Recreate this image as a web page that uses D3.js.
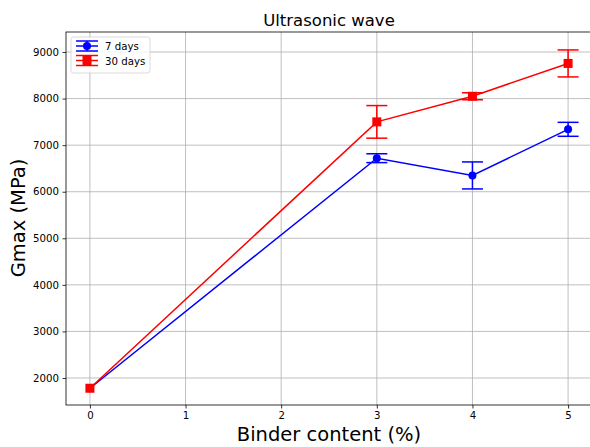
<!DOCTYPE html>
<html><head><meta charset="utf-8">
<script src="https://cdn.jsdelivr.net/npm/d3@7"></script>
<style>body{margin:0;background:#fff}svg{display:block}text{font-family:"DejaVu Sans",sans-serif}</style>
</head><body>
<svg id="c" width="590" height="447"></svg>
<script>
const binder = [0, 3, 4, 5];
const days7 = [1780, 6720, 6350, 7340];
const days7Err = [0, 95, 290, 150];
const days30 = [1780, 7500, 8050, 8755];
const days30Err = [0, 350, 75, 290];
const seriesNames = ["7 days", "30 days"];
const seriesColors = ["#0000ff", "#ff0000"];
const xTicks = [0, 1, 2, 3, 4, 5];
const yTicks = [2000, 3000, 4000, 5000, 6000, 7000, 8000, 9000];

const svg = d3.select("#c");
const L = 66, T = 32, B = 405;
const x = d3.scaleLinear().domain([-0.25, 5.25]).range([66, 592]);
const y = d3.scaleLinear().domain([1420, 9430]).range([B, T]);

// grid
const g = svg.append("g");
g.selectAll("line.gx").data(xTicks).enter().append("line")
  .attr("x1", d => x(d)).attr("x2", d => x(d)).attr("y1", T).attr("y2", B)
  .attr("stroke", "#b0b0b0").attr("stroke-width", 0.8);
g.selectAll("line.gy").data(yTicks).enter().append("line")
  .attr("x1", L).attr("x2", 592).attr("y1", d => y(d)).attr("y2", d => y(d))
  .attr("stroke", "#b0b0b0").attr("stroke-width", 0.8);

// axes
const xAxis = d3.axisBottom(x).tickValues(xTicks).tickSize(3.5).tickPadding(3.5).tickFormat(d3.format("d"));
const yAxis = d3.axisLeft(y).tickValues(yTicks).tickSize(3.5).tickPadding(3.5).tickFormat(d3.format("d"));
const gx = svg.append("g").attr("transform", `translate(0,${B})`).call(xAxis);
const gy = svg.append("g").attr("transform", `translate(${L},0)`).call(yAxis);
[gx, gy].forEach(a => {
  a.select(".domain").remove();
  a.selectAll("text").attr("font-size", 10.2).attr("fill", "#000").attr("font-family", "DejaVu Sans");
  a.selectAll("line").attr("stroke", "#000").attr("stroke-width", 0.8);
});
// spines
svg.append("rect").attr("x", L).attr("y", T).attr("width", 592 - L).attr("height", B - T)
  .attr("fill", "none").attr("stroke", "#000").attr("stroke-width", 0.8);

// series
const series = [
  {name: seriesNames[0], vals: days7, err: days7Err, color: seriesColors[0], marker: "circle"},
  {name: seriesNames[1], vals: days30, err: days30Err, color: seriesColors[1], marker: "square"}
];
const line = d3.line().x(d => x(d[0])).y(d => y(d[1]));
series.forEach(s => {
  const pts = binder.map((b, i) => [b, s.vals[i], s.err[i]]);
  const sg = svg.append("g");
  sg.append("path").datum(pts).attr("d", line).attr("fill", "none")
    .attr("stroke", s.color).attr("stroke-width", 1.5);
  pts.forEach(p => {
    if (p[2] > 0) {
      const cx = x(p[0]), y1 = y(p[1] + p[2]), y2 = y(p[1] - p[2]);
      sg.append("line").attr("x1", cx).attr("x2", cx).attr("y1", y1).attr("y2", y2).attr("stroke", s.color).attr("stroke-width", 1.5);
      [y1, y2].forEach(yy => sg.append("line").attr("x1", cx - 10.5).attr("x2", cx + 10.5).attr("y1", yy).attr("y2", yy).attr("stroke", s.color).attr("stroke-width", 1.5));
    }
    if (s.marker === "circle") sg.append("circle").attr("cx", x(p[0])).attr("cy", y(p[1])).attr("r", 4).attr("fill", s.color);
    else sg.append("rect").attr("x", x(p[0]) - 4.5).attr("y", y(p[1]) - 4.5).attr("width", 9).attr("height", 9).attr("fill", s.color);
  });
});

// legend
const lg = svg.append("g");
lg.append("rect").attr("x", 71).attr("y", 37).attr("width", 79).attr("height", 36).attr("rx", 2.5)
  .attr("fill", "#fff").attr("fill-opacity", 0.8).attr("stroke", "#d0d0d0").attr("stroke-width", 0.8);
series.forEach((s, i) => {
  const yy = 46 + i * 14.5;
  const hx = 87;
  lg.append("line").attr("x1", 76).attr("x2", 98).attr("y1", yy).attr("y2", yy).attr("stroke", s.color).attr("stroke-width", 1.5);
  lg.append("line").attr("x1", hx).attr("x2", hx).attr("y1", yy - 5).attr("y2", yy + 5).attr("stroke", s.color).attr("stroke-width", 1.5);
  [yy - 5, yy + 5].forEach(c => lg.append("line").attr("x1", 76).attr("x2", 98).attr("y1", c).attr("y2", c).attr("stroke", s.color).attr("stroke-width", 1.5));
  if (s.marker === "circle") lg.append("circle").attr("cx", hx).attr("cy", yy).attr("r", 4).attr("fill", s.color);
  else lg.append("rect").attr("x", hx - 4.5).attr("y", yy - 4.5).attr("width", 9).attr("height", 9).attr("fill", s.color);
  lg.append("text").attr("x", 105).attr("y", yy + 4).attr("font-size", 10.2).attr("fill", "#000").text(s.name);
});

// titles
svg.append("text").attr("x", 329).attr("y", 26).attr("text-anchor", "middle").attr("font-size", 16.5).attr("fill", "#000").text("Ultrasonic wave");
svg.append("text").attr("x", 329).attr("y", 441).attr("text-anchor", "middle").attr("font-size", 19.5).attr("fill", "#000").text("Binder content (%)");
svg.append("text").attr("transform", "translate(25,218) rotate(-90)").attr("text-anchor", "middle").attr("font-size", 19.5).attr("fill", "#000").text("Gmax (MPa)");
</script>
</body></html>
